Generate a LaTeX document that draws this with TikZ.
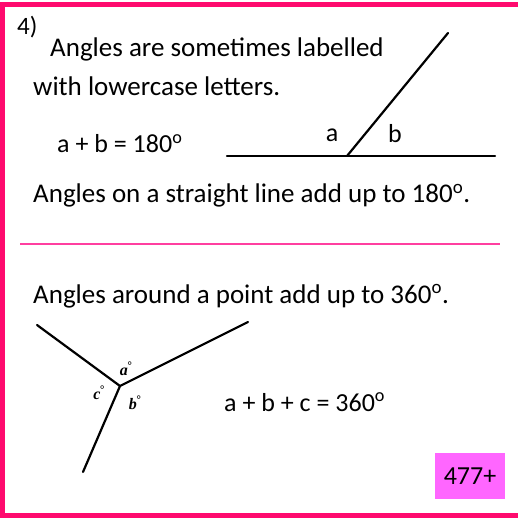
\documentclass[tikz,border=0pt]{standalone}
\usepackage{fontspec}
\setmainfont{Carlito}
\newfontfamily\timesf{Liberation Serif}
\definecolor{framepink}{HTML}{FF0A6E}
\definecolor{seppink}{HTML}{FF3FA0}
\definecolor{boxpink}{HTML}{FF66FF}
\begin{document}
\begin{tikzpicture}[x=1pt,y=-1pt,
  txt/.style={anchor=base west,inner sep=0pt,font=\fontsize{27}{32}\selectfont},
  eq/.style={anchor=base west,inner sep=0pt,font=\fontsize{26}{31}\selectfont},
  lbl/.style={anchor=base,inner sep=0pt,font=\fontsize{26}{31}\selectfont},
  small/.style={inner sep=0pt,font=\timesf\itshape\bfseries\fontsize{16}{18}\selectfont},
  ray/.style={line width=2.2pt,line cap=round}]
\useasboundingbox (0,0) rectangle (517,518);
% frame
\draw[framepink,line width=5pt] (530,4.5) -- (2.5,4.5) -- (2.5,515.5) -- (530,515.5);
% texts
\node[anchor=base west,inner sep=0pt,font=\fontsize{25}{29}\selectfont] (n4) at (17,35) {4)};
\node[txt] (t1) at (50,57) {Angles are sometimes labelled};
\node[txt] (t2) at (33,96) {with lowercase letters.};
\node[eq] (e1) at (57,153) {a + b = 180\textsuperscript{o}};
\node[txt] (t3) at (33,203) {Angles on a straight line add up to 180\textsuperscript{o}.};
\node[txt] (t4) at (33,303) {Angles around a point add up to 360\textsuperscript{o}.};
\node[eq] (e2) at (224,411) {a + b + c = 360\textsuperscript{o}};
% top diagram
\coordinate (hl) at (227,156);
\coordinate (hr) at (495,156);
\coordinate (o1) at (347,156);
\coordinate (s1) at (448,33);
\draw[ray] (hl) -- (hr);
\draw[ray] (o1) -- (s1);
\node[lbl] (la) at (332,142) {a};
\node[lbl] (lb) at (395,143) {b};
% separator
\coordinate (sl) at (20,244);
\coordinate (sr) at (500,244);
\draw[seppink,line width=2.5pt] (sl) -- (sr);
% bottom diagram
\coordinate (c) at (120,386);
\coordinate (r1) at (37,325);
\coordinate (r2) at (248,322);
\coordinate (r3) at (83,472);
\draw[ray] (c) -- (r1);
\draw[ray] (c) -- (r2);
\draw[ray] (c) -- (r3);
\node[small] (sa) at (126,369) {a\textsuperscript{\normalfont\mdseries\char"B0}};
\node[small] (sc) at (99,393) {c\textsuperscript{\normalfont\mdseries\char"B0}};
\node[small] (sb) at (135,403) {b\textsuperscript{\normalfont\mdseries\char"B0}};
% box
\node[fill=boxpink,minimum width=70pt,minimum height=46pt,inner sep=0pt,
  font=\fontsize{26}{31}\selectfont] (bx) at (470,476) {477+};
\end{tikzpicture}
\end{document}
